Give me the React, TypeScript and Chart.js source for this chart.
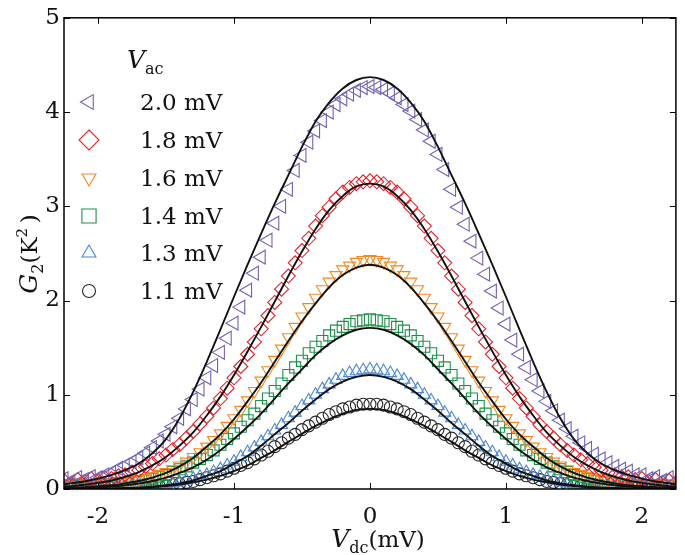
import React, { useEffect, useRef } from "react";
import { Chart, registerables } from "chart.js";

Chart.register(...registerables);

const SERIF = '"DejaVu Serif", "Liberation Serif", serif';

// V_dc grid of the measured points (mV)
const vdc = [
  -2.25, -2.2, -2.15, -2.1, -2.05, -2.0, -1.95, -1.9, -1.85, -1.8,
  -1.75, -1.7, -1.65, -1.6, -1.55, -1.5, -1.45, -1.4, -1.35, -1.3,
  -1.25, -1.2, -1.15, -1.1, -1.05, -1.0, -0.95, -0.9, -0.85, -0.8,
  -0.75, -0.7, -0.65, -0.6, -0.55, -0.5, -0.45, -0.4, -0.35, -0.3,
  -0.25, -0.2, -0.15, -0.1, -0.05, 0,
  0.05, 0.1, 0.15, 0.2, 0.25, 0.3, 0.35, 0.4, 0.45, 0.5,
  0.55, 0.6, 0.65, 0.7, 0.75, 0.8, 0.85, 0.9, 0.95, 1.0,
  1.05, 1.1, 1.15, 1.2, 1.25, 1.3, 1.35, 1.4, 1.45, 1.5,
  1.55, 1.6, 1.65, 1.7, 1.75, 1.8, 1.85, 1.9, 1.95, 2.0,
  2.05, 2.1, 2.15, 2.2, 2.25,
];

// measured G2 (K^2)
const g2_20 = [
  0.11, 0.08, 0.12, 0.10, 0.13, 0.12, 0.15, 0.17, 0.22, 0.25,
  0.29, 0.33, 0.38, 0.44, 0.51, 0.58, 0.66, 0.75, 0.85, 0.95,
  1.06, 1.18, 1.31, 1.45, 1.60, 1.76, 1.93, 2.11, 2.29, 2.46,
  2.64, 2.82, 3.00, 3.18, 3.38, 3.54, 3.68, 3.80, 3.91, 4.00,
  4.08, 4.14, 4.19, 4.23, 4.26, 4.27,
  4.26, 4.24, 4.20, 4.15, 4.08, 4.01, 3.92, 3.81, 3.69, 3.55,
  3.39, 3.18, 2.99, 2.81, 2.63, 2.45, 2.28, 2.10, 1.92, 1.75,
  1.58, 1.43, 1.29, 1.16, 1.04, 0.93, 0.83, 0.73, 0.64, 0.56,
  0.49, 0.43, 0.37, 0.32, 0.28, 0.24, 0.21, 0.19, 0.15, 0.15,
  0.11, 0.13, 0.09, 0.12, 0.08,
];
const g2_18 = [
  0.09, 0.06, 0.10, 0.08, 0.11, 0.09, 0.12, 0.11, 0.14, 0.15,
  0.18, 0.20, 0.24, 0.27, 0.32, 0.36, 0.42, 0.47, 0.54, 0.61,
  0.69, 0.77, 0.86, 0.96, 1.07, 1.18, 1.30, 1.43, 1.56, 1.70,
  1.84, 1.98, 2.12, 2.26, 2.40, 2.53, 2.66, 2.79, 2.90, 2.99,
  3.08, 3.15, 3.20, 3.24, 3.26, 3.27,
  3.26, 3.24, 3.20, 3.15, 3.08, 2.99, 2.90, 2.79, 2.66, 2.53,
  2.40, 2.26, 2.12, 1.98, 1.84, 1.70, 1.56, 1.43, 1.30, 1.18,
  1.07, 0.96, 0.86, 0.77, 0.68, 0.61, 0.54, 0.47, 0.41, 0.36,
  0.31, 0.27, 0.23, 0.20, 0.17, 0.15, 0.13, 0.13, 0.10, 0.11,
  0.08, 0.10, 0.07, 0.09, 0.07,
];
const g2_16 = [
  0.06, 0.04, 0.07, 0.05, 0.06, 0.06, 0.07, 0.07, 0.08, 0.08,
  0.09, 0.10, 0.12, 0.14, 0.16, 0.18, 0.21, 0.25, 0.29, 0.34,
  0.39, 0.45, 0.52, 0.59, 0.67, 0.75, 0.84, 0.94, 1.04, 1.15,
  1.26, 1.37, 1.49, 1.61, 1.72, 1.83, 1.93, 2.03, 2.12, 2.20,
  2.27, 2.33, 2.37, 2.41, 2.43, 2.44,
  2.43, 2.41, 2.37, 2.33, 2.27, 2.20, 2.12, 2.03, 1.93, 1.83,
  1.72, 1.61, 1.49, 1.37, 1.26, 1.15, 1.04, 0.94, 0.84, 0.75,
  0.67, 0.59, 0.52, 0.45, 0.39, 0.34, 0.29, 0.25, 0.21, 0.18,
  0.16, 0.14, 0.12, 0.10, 0.09, 0.08, 0.07, 0.07, 0.06, 0.06,
  0.06, 0.05, 0.06, 0.05, 0.05,
];
const g2_14 = [
  0.03, 0.04, 0.03, 0.04, 0.03, 0.04, 0.05, 0.05, 0.06, 0.06,
  0.07, 0.08, 0.09, 0.11, 0.13, 0.15, 0.18, 0.21, 0.24, 0.28,
  0.32, 0.36, 0.41, 0.47, 0.53, 0.59, 0.66, 0.73, 0.80, 0.88,
  0.96, 1.04, 1.12, 1.21, 1.29, 1.36, 1.44, 1.51, 1.57, 1.63,
  1.68, 1.72, 1.75, 1.78, 1.79, 1.80,
  1.79, 1.78, 1.75, 1.72, 1.68, 1.63, 1.57, 1.51, 1.44, 1.36,
  1.29, 1.21, 1.12, 1.04, 0.96, 0.88, 0.80, 0.73, 0.66, 0.59,
  0.53, 0.47, 0.41, 0.36, 0.32, 0.28, 0.24, 0.21, 0.18, 0.15,
  0.13, 0.11, 0.09, 0.08, 0.07, 0.06, 0.05, 0.05, 0.04, 0.04,
  0.04, 0.03, 0.04, 0.03, 0.03,
];
const g2_13 = [
  0.02, 0.02, 0.02, 0.02, 0.03, 0.02, 0.02, 0.02, 0.03, 0.02,
  0.03, 0.03, 0.03, 0.04, 0.04, 0.05, 0.06, 0.07, 0.09, 0.11,
  0.13, 0.15, 0.18, 0.21, 0.25, 0.29, 0.34, 0.39, 0.44, 0.50,
  0.56, 0.62, 0.68, 0.75, 0.81, 0.88, 0.94, 1.00, 1.06, 1.11,
  1.16, 1.20, 1.23, 1.25, 1.26, 1.27,
  1.26, 1.25, 1.23, 1.20, 1.16, 1.11, 1.06, 1.00, 0.94, 0.88,
  0.81, 0.75, 0.68, 0.62, 0.56, 0.50, 0.44, 0.39, 0.34, 0.29,
  0.25, 0.21, 0.18, 0.15, 0.13, 0.11, 0.09, 0.07, 0.06, 0.05,
  0.04, 0.04, 0.03, 0.03, 0.03, 0.02, 0.03, 0.02, 0.02, 0.02,
  0.03, 0.02, 0.02, 0.02, 0.02,
];
const g2_11 = [
  0.01, 0.01, 0.01, 0.01, 0.01, 0.01, 0.01, 0.01, 0.01, 0.015,
  0.015, 0.02, 0.02, 0.025, 0.03, 0.036, 0.045, 0.055, 0.07, 0.08,
  0.10, 0.12, 0.14, 0.16, 0.19, 0.22, 0.25, 0.28, 0.32, 0.36,
  0.40, 0.45, 0.49, 0.54, 0.58, 0.63, 0.67, 0.71, 0.75, 0.79,
  0.82, 0.85, 0.87, 0.89, 0.90, 0.90,
  0.90, 0.89, 0.87, 0.85, 0.82, 0.79, 0.75, 0.71, 0.67, 0.63,
  0.58, 0.54, 0.49, 0.45, 0.40, 0.36, 0.32, 0.28, 0.25, 0.22,
  0.19, 0.16, 0.14, 0.12, 0.10, 0.08, 0.07, 0.055, 0.045, 0.036,
  0.03, 0.025, 0.02, 0.02, 0.015, 0.015, 0.01, 0.01, 0.01, 0.01,
  0.01, 0.01, 0.01, 0.01, 0.01,
];

// theory curves
const fitVdc = [
  -2.25, -2.2, -2.1, -2.0, -1.9, -1.8, -1.7, -1.6, -1.5, -1.4, -1.3, -1.2,
  -1.1, -1.0, -0.9, -0.8, -0.7, -0.6, -0.5, -0.4, -0.3, -0.2, -0.1, 0,
  0.1, 0.2, 0.3, 0.4, 0.5, 0.6, 0.7, 0.8, 0.9, 1.0, 1.1, 1.2,
  1.3, 1.4, 1.5, 1.6, 1.7, 1.8, 1.9, 2.0, 2.1, 2.2, 2.25,
];
const fit_20 = [
  0.05, 0.06, 0.08, 0.11, 0.15, 0.20, 0.27, 0.38, 0.53, 0.75, 1.03, 1.35,
  1.69, 2.04, 2.38, 2.71, 3.03, 3.33, 3.63, 3.90, 4.10, 4.25, 4.34, 4.37,
  4.34, 4.25, 4.10, 3.90, 3.63, 3.33, 3.03, 2.71, 2.38, 2.04, 1.69, 1.35,
  1.03, 0.75, 0.53, 0.38, 0.27, 0.20, 0.15, 0.11, 0.08, 0.06, 0.05,
];
const fit_18 = [
  0.025, 0.03, 0.045, 0.065, 0.09, 0.13, 0.18, 0.25, 0.34, 0.46, 0.60, 0.78,
  0.98, 1.21, 1.46, 1.72, 1.99, 2.26, 2.52, 2.76, 2.96, 3.11, 3.21, 3.24,
  3.21, 3.11, 2.96, 2.76, 2.52, 2.26, 1.99, 1.72, 1.46, 1.21, 0.98, 0.78,
  0.60, 0.46, 0.34, 0.25, 0.18, 0.13, 0.09, 0.065, 0.045, 0.03, 0.025,
];
const fit_16 = [
  0.012, 0.015, 0.02, 0.03, 0.04, 0.06, 0.085, 0.12, 0.17, 0.24, 0.33, 0.45,
  0.58, 0.74, 0.93, 1.13, 1.35, 1.57, 1.78, 1.97, 2.14, 2.27, 2.35, 2.38,
  2.35, 2.27, 2.14, 1.97, 1.78, 1.57, 1.35, 1.13, 0.93, 0.74, 0.58, 0.45,
  0.33, 0.24, 0.17, 0.12, 0.085, 0.06, 0.04, 0.03, 0.02, 0.015, 0.012,
];
const fit_14 = [
  0.006, 0.007, 0.011, 0.017, 0.026, 0.04, 0.058, 0.085, 0.12, 0.17, 0.23, 0.31,
  0.41, 0.53, 0.66, 0.80, 0.96, 1.12, 1.27, 1.42, 1.54, 1.63, 1.69, 1.71,
  1.69, 1.63, 1.54, 1.42, 1.27, 1.12, 0.96, 0.80, 0.66, 0.53, 0.41, 0.31,
  0.23, 0.17, 0.12, 0.085, 0.058, 0.04, 0.026, 0.017, 0.011, 0.007, 0.006,
];
const fit_13 = [
  0.002, 0.002, 0.003, 0.004, 0.006, 0.01, 0.015, 0.025, 0.04, 0.06, 0.09, 0.14,
  0.19, 0.27, 0.35, 0.46, 0.58, 0.70, 0.83, 0.95, 1.06, 1.14, 1.19, 1.21,
  1.19, 1.14, 1.06, 0.95, 0.83, 0.70, 0.58, 0.46, 0.35, 0.27, 0.19, 0.14,
  0.09, 0.06, 0.04, 0.025, 0.015, 0.01, 0.006, 0.004, 0.003, 0.002, 0.002,
];
const fit_11 = [
  0.001, 0.001, 0.002, 0.003, 0.004, 0.007, 0.011, 0.019, 0.03, 0.046, 0.07, 0.10,
  0.14, 0.19, 0.25, 0.33, 0.41, 0.50, 0.585, 0.67, 0.74, 0.80, 0.84, 0.85,
  0.84, 0.80, 0.74, 0.67, 0.585, 0.50, 0.41, 0.33, 0.25, 0.19, 0.14, 0.10,
  0.07, 0.046, 0.03, 0.019, 0.011, 0.007, 0.004, 0.003, 0.002, 0.001, 0.001,
];

const seriesLabels = ["2.0 mV", "1.8 mV", "1.6 mV", "1.4 mV", "1.3 mV", "1.1 mV"];
const xTicks = [-2, -1, 0, 1, 2];
const yTicks = [0, 1, 2, 3, 4, 5];

type Marker = { style: string; rotation: number; radius: number; legendRadius: number; color: string };

const markers: Marker[] = [
  { style: "triangle", rotation: -90, radius: 8, legendRadius: 8.5, color: "#6f62b2" },
  { style: "rectRot", rotation: 0, radius: 7, legendRadius: 10, color: "#e3222c" },
  { style: "triangle", rotation: 180, radius: 7, legendRadius: 8, color: "#f28a22" },
  { style: "rect", rotation: 0, radius: 7.8, legendRadius: 10, color: "#1e9049" },
  { style: "triangle", rotation: 0, radius: 7, legendRadius: 8, color: "#4a86d4" },
  { style: "circle", rotation: 0, radius: 6, legendRadius: 6.5, color: "#262626" },
];

const measured = [g2_20, g2_18, g2_16, g2_14, g2_13, g2_11];
const fits = [fit_20, fit_18, fit_16, fit_14, fit_13, fit_11];

function drawMarker(ctx: CanvasRenderingContext2D, m: Marker, x: number, y: number, r: number) {
  let rad = (m.rotation * Math.PI) / 180;
  ctx.beginPath();
  if (m.style === "triangle") {
    ctx.moveTo(x + Math.sin(rad) * r, y - Math.cos(rad) * r);
    rad += (2 * Math.PI) / 3;
    ctx.lineTo(x + Math.sin(rad) * r, y - Math.cos(rad) * r);
    rad += (2 * Math.PI) / 3;
    ctx.lineTo(x + Math.sin(rad) * r, y - Math.cos(rad) * r);
    ctx.closePath();
  } else if (m.style === "rectRot") {
    ctx.moveTo(x, y - r);
    ctx.lineTo(x + r, y);
    ctx.lineTo(x, y + r);
    ctx.lineTo(x - r, y);
    ctx.closePath();
  } else if (m.style === "rect") {
    const s = r * Math.SQRT1_2;
    ctx.rect(x - s, y - s, 2 * s, 2 * s);
  } else {
    ctx.arc(x, y, r, 0, Math.PI * 2);
  }
  ctx.strokeStyle = m.color;
  ctx.lineWidth = 1.1;
  ctx.stroke();
}

type Piece = { text: string; font: string; dy: number };

function drawPieces(ctx: CanvasRenderingContext2D, pieces: Piece[], cx: number, baseline: number) {
  let total = 0;
  for (const p of pieces) {
    ctx.font = p.font;
    total += ctx.measureText(p.text).width;
  }
  let x = cx - total / 2;
  ctx.textAlign = "left";
  ctx.textBaseline = "alphabetic";
  for (const p of pieces) {
    ctx.font = p.font;
    ctx.fillText(p.text, x, baseline + p.dy);
    x += ctx.measureText(p.text).width;
  }
}

const decorPlugin = {
  id: "decor",
  afterDraw(chart: any) {
    const ctx: CanvasRenderingContext2D = chart.ctx;
    const { left, right, top, bottom } = chart.chartArea;
    const xs = chart.scales.x;
    const ys = chart.scales.y;
    ctx.save();
    ctx.strokeStyle = "#000";
    ctx.lineWidth = 1.5;
    ctx.strokeRect(left, top, right - left, bottom - top);
    ctx.lineWidth = 1;
    const tl = 6;
    ctx.beginPath();
    for (const v of xTicks) {
      const px = Math.round(xs.getPixelForValue(v)) + 0.5;
      ctx.moveTo(px, bottom);
      ctx.lineTo(px, bottom - tl);
      ctx.moveTo(px, top);
      ctx.lineTo(px, top + tl);
    }
    for (const v of yTicks) {
      const py = Math.round(ys.getPixelForValue(v)) + 0.5;
      ctx.moveTo(left, py);
      ctx.lineTo(left + tl, py);
      ctx.moveTo(right, py);
      ctx.lineTo(right - tl, py);
    }
    ctx.stroke();

    ctx.fillStyle = "#111";
    // x axis title
    drawPieces(
      ctx,
      [
        { text: "V", font: `italic 25px ${SERIF}`, dy: 0 },
        { text: "dc", font: `16px ${SERIF}`, dy: 6 },
        { text: "(mV)", font: `23px ${SERIF}`, dy: 0 },
      ],
      378,
      547
    );
    // y axis title
    ctx.save();
    ctx.translate(37, 254);
    ctx.rotate(-Math.PI / 2);
    drawPieces(
      ctx,
      [
        { text: "G", font: `italic 25px ${SERIF}`, dy: 0 },
        { text: "2", font: `16px ${SERIF}`, dy: 6 },
        { text: "(K", font: `23px ${SERIF}`, dy: 0 },
        { text: "2", font: `15px ${SERIF}`, dy: -10 },
        { text: "\u2009)", font: `23px ${SERIF}`, dy: 0 },
      ],
      0,
      0
    );
    ctx.restore();

    // legend
    ctx.textAlign = "left";
    ctx.textBaseline = "alphabetic";
    ctx.font = `italic 25px ${SERIF}`;
    ctx.fillText("V", 127, 68);
    const vw = ctx.measureText("V").width;
    ctx.font = `16px ${SERIF}`;
    ctx.fillText("ac", 127 + vw, 74);

    const rowY = [102, 140, 178, 216, 253, 291];
    ctx.font = `23px ${SERIF}`;
    seriesLabels.forEach((lab, i) => {
      drawMarker(ctx, markers[i], 89, rowY[i], markers[i].legendRadius);
      ctx.fillStyle = "#111";
      ctx.textBaseline = "alphabetic";
      ctx.fillText(lab, 140, rowY[i] + 8);
    });
    ctx.restore();
  },
};

export default function App() {
  const ref = useRef<HTMLCanvasElement | null>(null);

  useEffect(() => {
    const canvas = ref.current;
    if (!canvas) return;

    const fitSets = fits.map((arr, i) => ({
      label: "fit " + seriesLabels[i],
      data: fitVdc.map((x, j) => ({ x, y: arr[j] })),
      showLine: true,
      borderColor: "#111",
      borderWidth: 1.9,
      pointRadius: 0,
      fill: false,
      cubicInterpolationMode: "monotone" as const,
    }));

    const dataSets = measured.map((arr, i) => ({
      label: seriesLabels[i],
      data: vdc.map((x, j) => ({ x, y: arr[j] })),
      showLine: false,
      pointStyle: markers[i].style,
      pointRotation: markers[i].rotation,
      pointRadius: markers[i].radius,
      pointBorderWidth: 1.1,
      pointBorderColor: markers[i].color,
      pointBackgroundColor: "rgba(0,0,0,0)",
      borderColor: markers[i].color,
      backgroundColor: "rgba(0,0,0,0)",
    }));

    const chart = new Chart(canvas, {
      type: "line",
      data: { datasets: [...fitSets, ...dataSets] as any },
      options: {
        animation: false,
        responsive: false,
        events: [],
        layout: { padding: { top: 14, right: 2, left: 0, bottom: 0 } },
        plugins: { legend: { display: false }, tooltip: { enabled: false } },
        scales: {
          x: {
            type: "linear",
            min: -2.25,
            max: 2.25,
            grid: { display: false, drawTicks: false },
            border: { display: false },
            afterBuildTicks: (s: any) => {
              s.ticks = xTicks.map((v) => ({ value: v }));
            },
            afterFit: (s: any) => {
              s.height = 66;
            },
            ticks: {
              font: { family: SERIF, size: 23 },
              color: "#111",
              padding: 14,
              maxRotation: 0,
              callback: (v: any) => String(v),
            },
          },
          y: {
            type: "linear",
            min: 0,
            max: 5,
            grid: { display: false, drawTicks: false },
            border: { display: false },
            afterBuildTicks: (s: any) => {
              s.ticks = yTicks.map((v) => ({ value: v }));
            },
            afterFit: (s: any) => {
              s.width = 64;
            },
            ticks: {
              font: { family: SERIF, size: 23 },
              color: "#111",
              padding: 4,
              callback: (v: any) => String(v),
            },
          },
        },
      },
      plugins: [decorPlugin],
    });

    return () => chart.destroy();
  }, []);

  return (
    <div style={{ position: "absolute", left: 0, top: 0, width: 685, height: 555, background: "#fff" }}>
      <canvas ref={ref} width={685} height={555} style={{ display: "block", width: 685, height: 555 }} />
    </div>
  );
}
